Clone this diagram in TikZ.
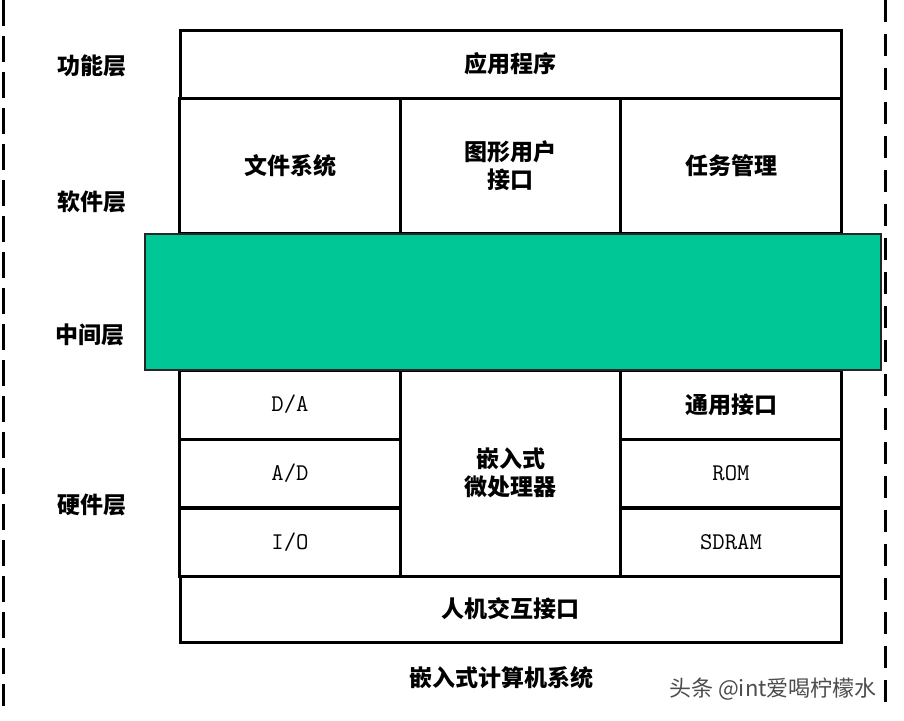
\documentclass[tikz,border=0pt]{standalone}
\usepackage{fontspec}
\newfontfamily\cjk{Noto Sans CJK SC}
\definecolor{bandgreen}{RGB}{0,199,150}

\begin{document}
\begin{tikzpicture}[x=1pt,y=-1pt]
    	\colorlet{framecolor}{black}
    	\colorlet{markcolor}{black!70}
    	\tikzset{cell/.style 2 args={draw=framecolor,line width=3pt,
    	    minimum width=#1,minimum height=#2,inner sep=0pt}}
    	\tikzset{cjktext/.style={font=\cjk\bfseries\fontsize{23}{28}\selectfont,align=center}}
    	\tikzset{latintext/.style={font=\ttfamily\fontsize{24}{26}\selectfont}}
    	\tikzset{sideline/.style={line width=3pt}}

    	\pgfmathsetmacro{\cw}{220.5}
    	\pgfmathsetmacro{\rh}{69}

    	\useasboundingbox (0,0) rectangle (904,720);

    	% layer names
    	\node[cjktext] (lfunc) at (92,66) {功能层};
    	\node[cjktext] (lsoft) at (92,202) {软件层};
    	\node[cjktext] (lmid) at (90,335) {中间层};
    	\node[cjktext] (lhard) at (92,505) {硬件层};

    	% functional and software layers
    	\node[cell={661}{68},cjktext] (app) at (510.5,64) {应用程序};
    	\node[cell={\cw}{135},cjktext] (fs) at (290,165.5) {文件系统};
    	\node[cell={\cw}{135},cjktext] (gui) at (510.5,165.5) {图形用户\\接口};
    	\node[cell={\cw}{135},cjktext] (task) at (731,165.5) {任务管理};

    	% hardware layer
    	\node[cell={\cw}{\rh},latintext] (da) at (290,404.5) {D/A};
    	\node[cell={\cw}{\rh},latintext] (ad) at (290,473.5) {A/D};
    	\node[cell={\cw}{\rh},latintext] (io) at (290,542) {I/O};
    	\node[cell={\cw}{206},cjktext] (cpu) at (510.5,473) {嵌入式\\微处理器};
    	\node[cell={\cw}{\rh},cjktext] (gen) at (731,404.5) {通用接口};
    	\node[cell={\cw}{\rh},latintext] (rom) at (731,473.5) {ROM};
    	\node[cell={\cw}{\rh},latintext] (sdram) at (731,542) {SDRAM};
    	\node[cell={661}{66},cjktext] (hmi) at (510.5,609) {人机交互接口};

    	% middle layer
    	\node[draw=black!85,line width=1.6pt,fill=bandgreen,
    	  minimum width=736,minimum height=136,inner sep=0pt] (mid) at (513,302) {};

    	\node[cjktext] (sys) at (501,678) {嵌入式计算机系统};
    	\node[font=\cjk\fontsize{22}{26}\selectfont,text=markcolor] (mark) at (773,689) {头条 @int爱喝柠檬水};

    	% side borders
    	\coordinate (ltop) at (3,0);
    	\coordinate (lbot) at (3,706);
    	\coordinate (rtop) at (885,0);
    	\coordinate (rbot) at (885,707);
    	\draw[sideline,dash pattern=on 26pt off 10pt] (ltop) -- (lbot);
    	\draw[sideline,dash pattern=on 22pt off 12pt] (rtop) -- (rbot);
\end{tikzpicture}
\end{document}
